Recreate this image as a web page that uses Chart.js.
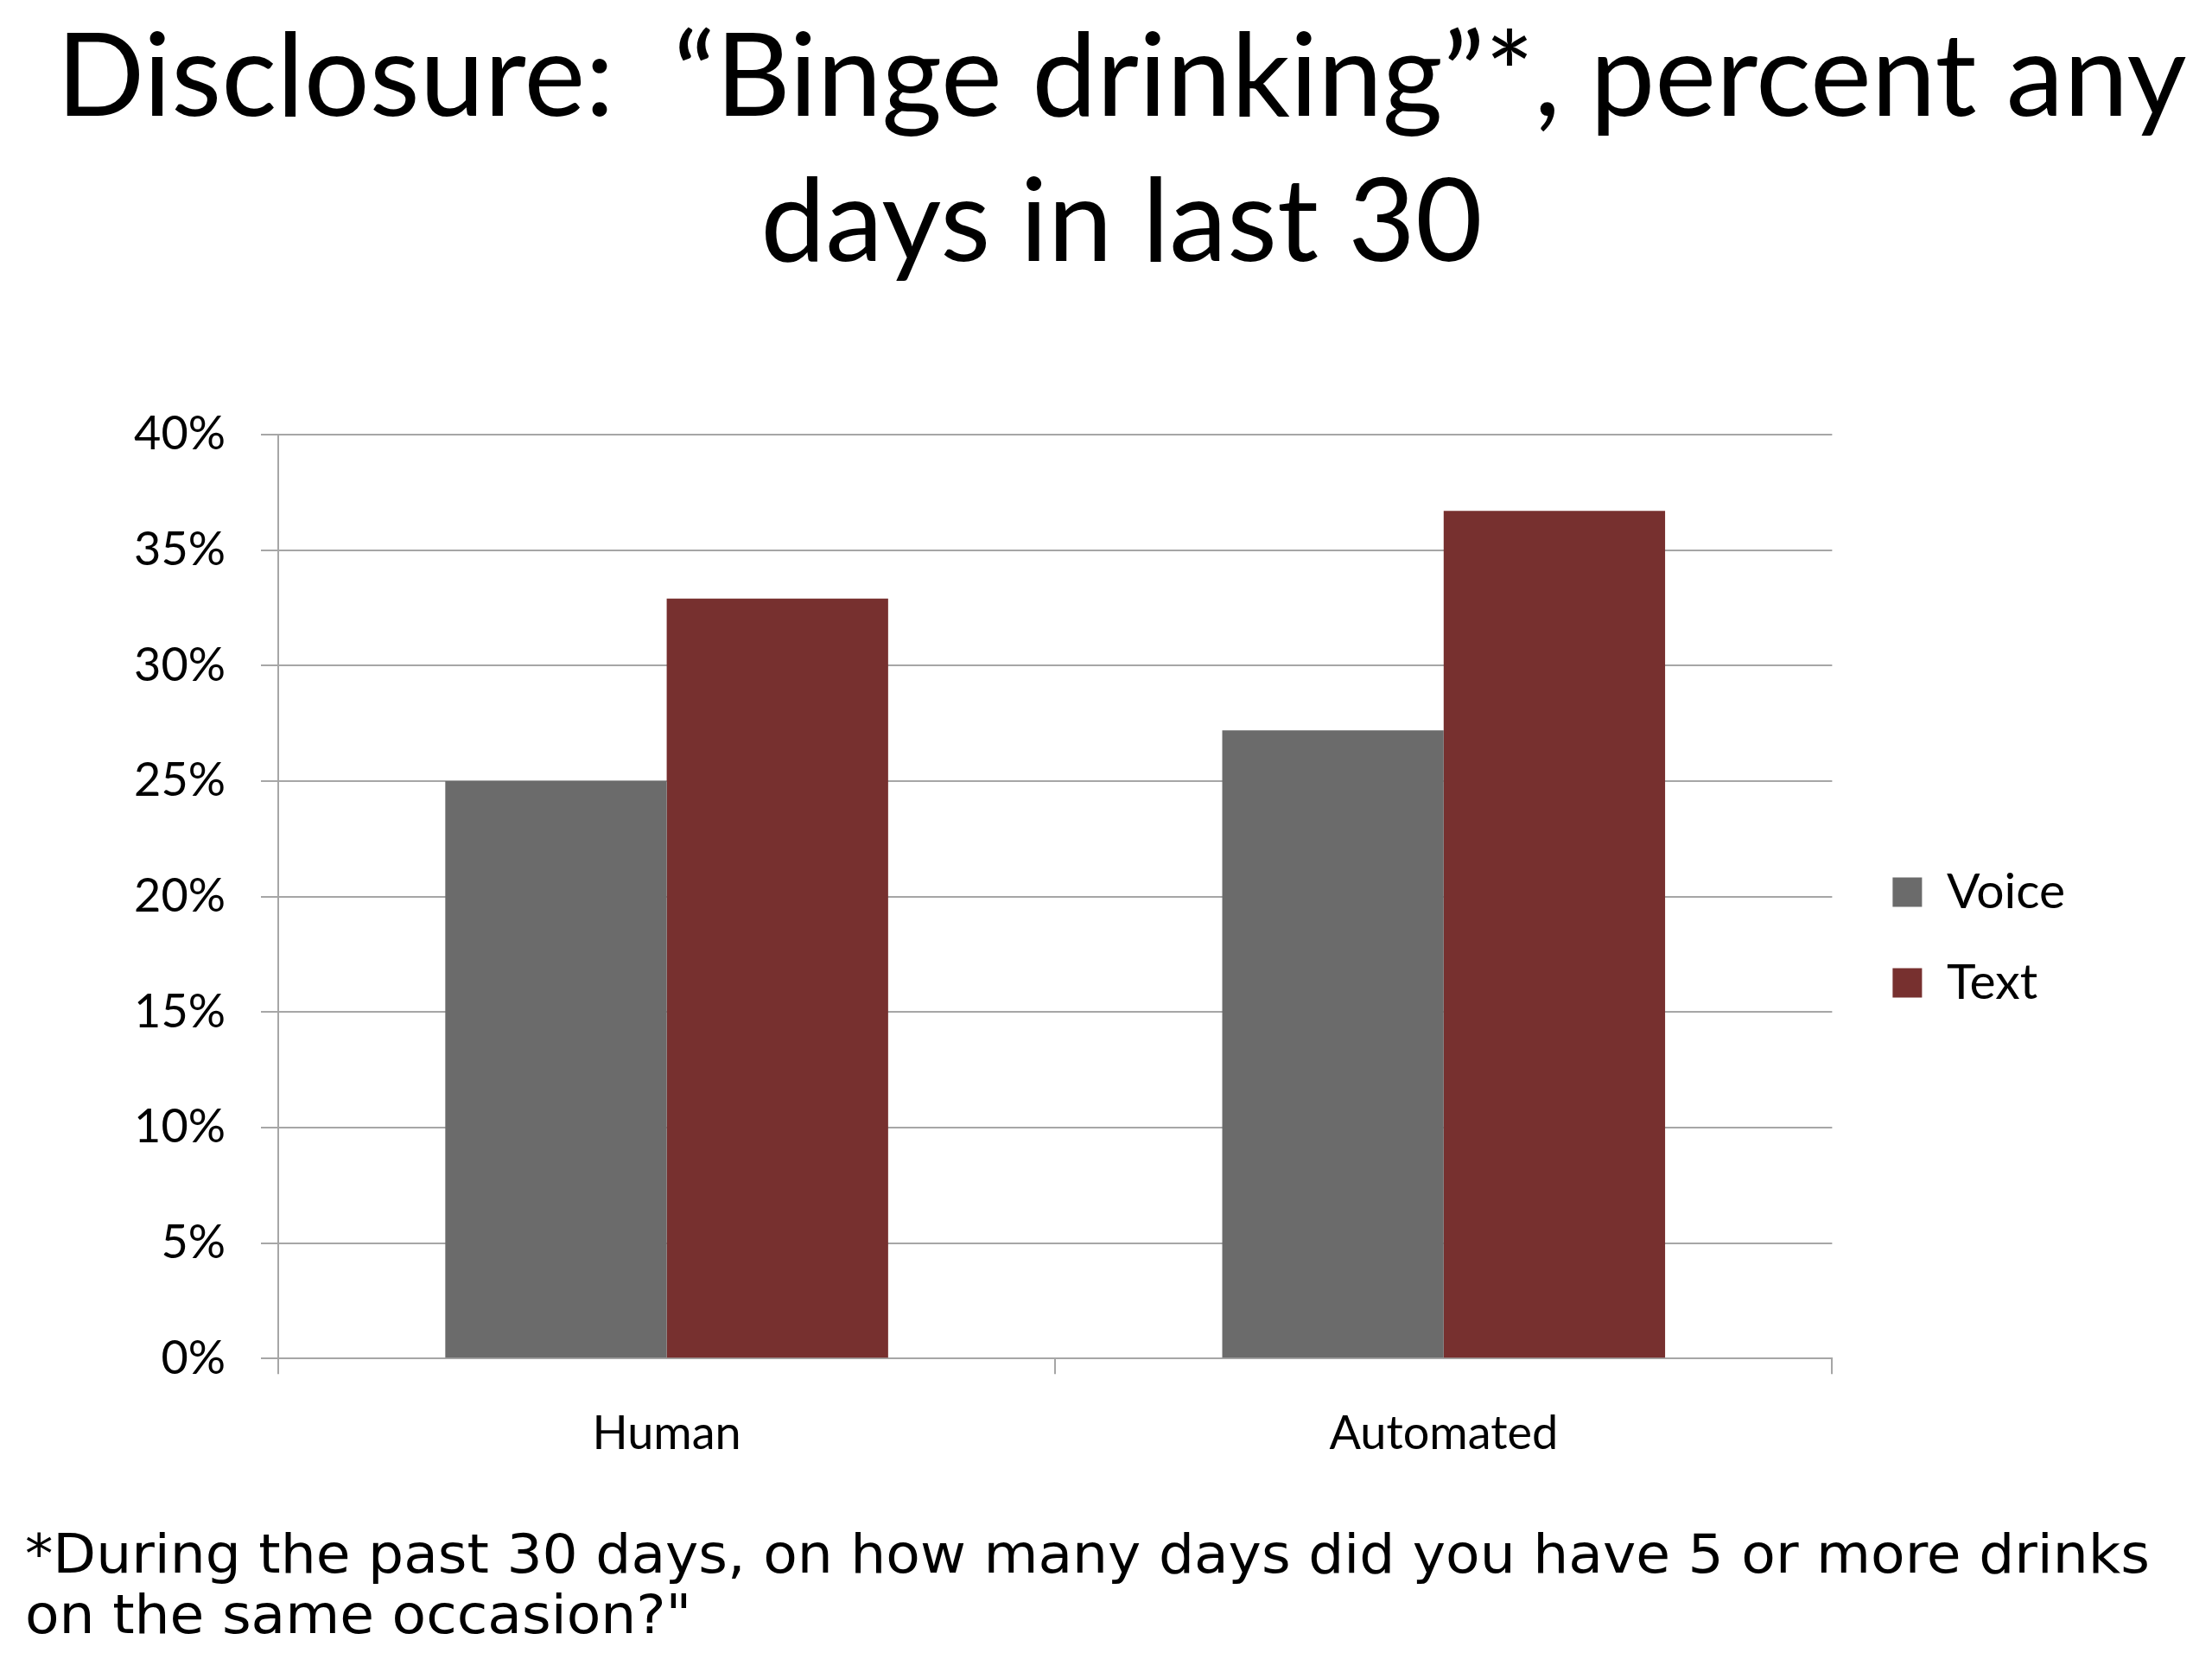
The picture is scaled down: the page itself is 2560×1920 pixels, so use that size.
<!DOCTYPE html>
<html>
<head>
<meta charset="utf-8">
<script src="https://cdn.jsdelivr.net/npm/chart.js@4/dist/chart.umd.min.js"></script>
<style>
  html, body { margin: 0; padding: 0; background: #ffffff; }
  #wrap { width: 2560px; height: 1920px; }
</style>
</head>
<body>
<div id="wrap"><canvas id="c" width="2560" height="1920"></canvas></div>
<script>
const categories = ['Human', 'Automated'];
const voiceValues = [25.0, 27.2];
const textValues = [32.9, 36.7];
const seriesNames = ['Voice', 'Text'];
const titleLines = ['Disclosure:  \u201CBinge drinking\u201D*, percent any', 'days in last 30'];
const footnoteLines = ['*During the past 30 days, on how many days did you have 5 or more drinks', 'on the same occasion?"'];
const yTicks = { min: 0, max: 40, step: 5 };

// Slide-style title and footnote drawn as real canvas text
const textPlugin = {
  id: 'slideText',
  afterDraw(chart) {
    const ctx = chart.ctx;
    ctx.save();
    ctx.fillStyle = '#000000';
    ctx.textBaseline = 'alphabetic';
    // title
    ctx.font = '134px Lato';
    ctx.textAlign = 'center';
    const tys = [134, 302];
    titleLines.forEach((line, i) => ctx.fillText(line, 1298, tys[i]));
    // footnote (Verdana-like, horizontally condensed)
    ctx.textAlign = 'left';
    ctx.font = '62px "DejaVu Sans"';
    const w = ctx.measureText(footnoteLines[0]).width;
    const s = 2459 / w;
    const ys = [1820, 1890];
    footnoteLines.forEach((line, i) => {
      ctx.save();
      ctx.translate(29, ys[i]);
      ctx.scale(s, 1);
      ctx.fillText(line, 0, 0);
      ctx.restore();
    });
    ctx.restore();
  }
};

// nudge the legend block into the slide position
const legendPlacer = {
  id: 'legendPlacer',
  afterLayout(chart) {
    const lg = chart.legend;
    if (!lg) return;
    const dx = 22;
    const dy = 1085 - (lg.top + lg.bottom) / 2;
    lg.left += dx; lg.right += dx;
    lg.top += dy; lg.bottom += dy;
  }
};

const gridColor = '#a6a6a6';

new Chart(document.getElementById('c'), {
  type: 'bar',
  data: {
    labels: categories,
    datasets: [
      { label: seriesNames[0], data: voiceValues, backgroundColor: '#6b6b6b', borderWidth: 0 },
      { label: seriesNames[1], data: textValues, backgroundColor: '#77302f', borderWidth: 0 }
    ]
  },
  options: {
    responsive: false,
    devicePixelRatio: 1,
    animation: false,
    categoryPercentage: 0.57,
    barPercentage: 1.0,
    layout: { padding: { left: 0, right: 182, top: 503, bottom: 191 } },
    plugins: {
      title: { display: false },
      legend: {
        display: true,
        position: 'right',
        align: 'center',
        labels: {
          boxWidth: 34,
          boxHeight: 34,
          padding: 48,
          color: '#000000',
          font: { family: 'Lato', size: 57 }
        }
      },
      tooltip: { enabled: false }
    },
    scales: {
      x: {
        grid: { display: true, drawOnChartArea: false, drawTicks: true, tickLength: 18, color: gridColor, lineWidth: 2, offset: true },
        border: { display: true, color: gridColor, width: 2 },
        ticks: { color: '#000000', font: { family: 'Lato', size: 54 }, padding: 37 }
      },
      y: {
        min: yTicks.min,
        max: yTicks.max,
        afterFit(scale) { scale.width = 322; },
        grid: { display: true, drawTicks: true, tickLength: 20, color: gridColor, lineWidth: 2 },
        border: { display: true, color: gridColor, width: 2 },
        ticks: {
          stepSize: yTicks.step,
          color: '#000000',
          font: { family: 'Lato', size: 54 },
          padding: 41,
          callback: v => v + '%'
        }
      }
    }
  },
  plugins: [legendPlacer, textPlugin]
});
</script>
</body>
</html>
